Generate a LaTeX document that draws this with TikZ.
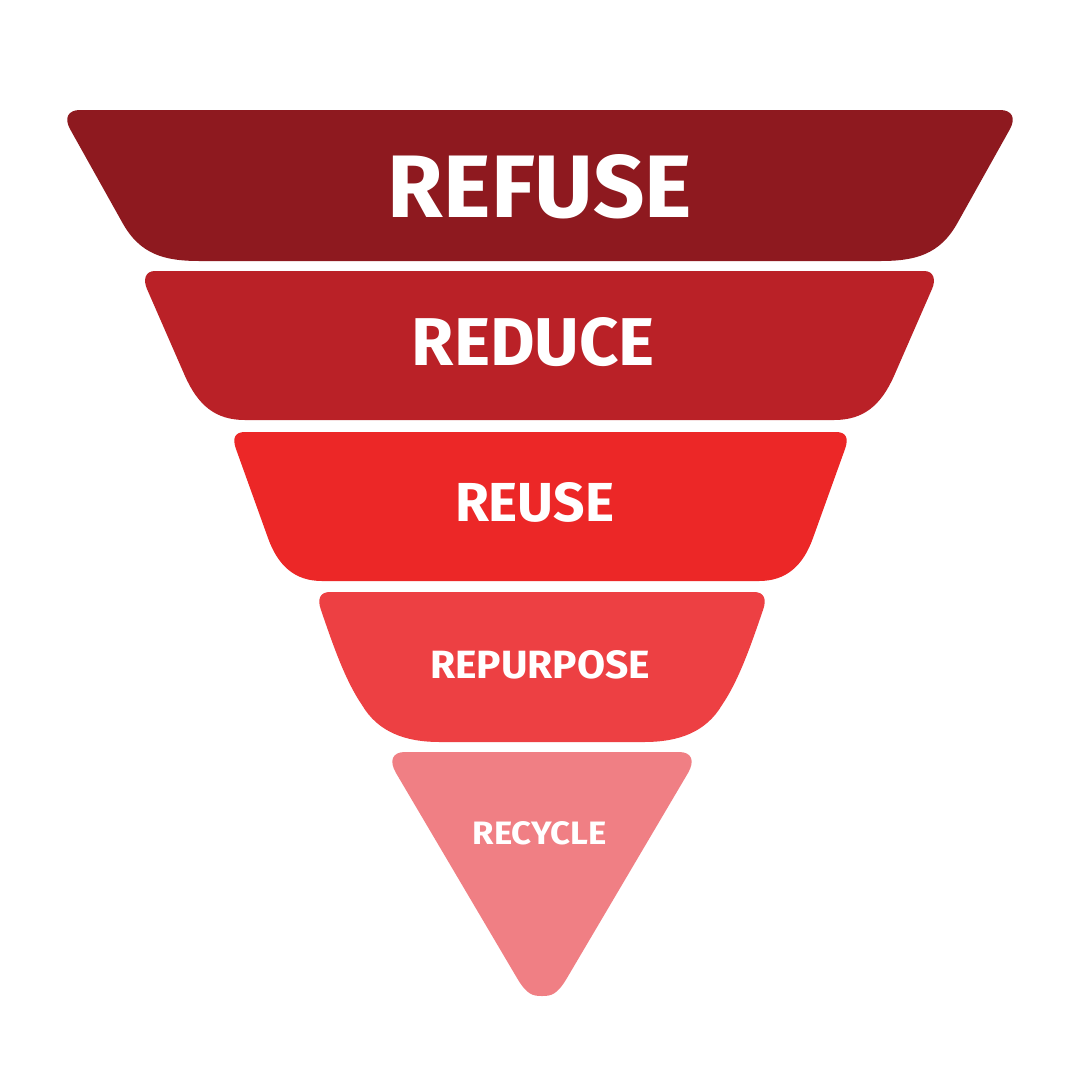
\documentclass[tikz,border=0pt]{standalone}
\usepackage{fontspec}
\setmainfont{Fira Sans}
\usepackage{graphicx}
\definecolor{cA}{HTML}{8E191F}
\definecolor{cB}{HTML}{BA2127}
\definecolor{cC}{HTML}{EC2727}
\definecolor{cD}{HTML}{ED4043}
\definecolor{cE}{HTML}{F07F84}
\tikzset{
  tierlabel/.style={inner sep=0pt, text=white, font=\bfseries}
}
\begin{document}
\begin{tikzpicture}[x=1pt,y=-1pt]
\useasboundingbox[fill=white] (0,0) rectangle (1080,1080);
% REFUSE
\fill[cA] (80,110) -- (1000,110) .. controls (1012,110) and (1016,118) .. (1010,129)
  -- (958,222) .. controls (940,255) and (915,261) .. (880,261)
  -- (200,261) .. controls (165,261) and (140,255) .. (122,222)
  -- (70,129) .. controls (64,118) and (68,110) .. (80,110) -- cycle;
% REDUCE
\fill[cB] (155,271) -- (924,271) .. controls (934,271) and (936,280) .. (932,289)
  -- (894,376) .. controls (881,405) and (864,420) .. (834,420)
  -- (245,420) .. controls (215,420) and (198,405) .. (185,376)
  -- (147,289) .. controls (143,280) and (145,271) .. (155,271) -- cycle;
% REUSE
\fill[cC] (245,432) -- (836,432) .. controls (846,432) and (849,438) .. (845,449)
  -- (813,538) .. controls (803,566) and (786,581) .. (759,581)
  -- (322,581) .. controls (295,581) and (278,566) .. (268,538)
  -- (236,449) .. controls (232,438) and (235,432) .. (245,432) -- cycle;
% REPURPOSE
\fill[cD] (330,592) -- (754,592) .. controls (764,592) and (767,599) .. (763,610)
  .. controls (751,645) and (739,680) .. (722,705)
  .. controls (706,732) and (679,742) .. (644,742)
  -- (440,742) .. controls (405,742) and (378,732) .. (362,705)
  .. controls (345,680) and (333,645) .. (321,610)
  .. controls (317,599) and (320,592) .. (330,592) -- cycle;
% RECYCLE
\fill[cE] (405,752) -- (679,752) .. controls (692,752) and (695,761) .. (688,773)
  -- (567,978) .. controls (557,995) and (551,996) .. (542,996)
  .. controls (533,996) and (527,995) .. (517,978)
  -- (396,773) .. controls (389,761) and (392,752) .. (405,752) -- cycle;
% labels
\node[tierlabel] (refuse) at (540,186.5) {\resizebox{304pt}{63pt}{REFUSE}};
\node[tierlabel] (reduce) at (533.5,342) {\resizebox{243pt}{48pt}{REDUCE}};
\node[tierlabel] (reuse) at (534.5,502.5) {\resizebox{159pt}{39pt}{REUSE}};
\node[tierlabel] (repurpose) at (540,665) {\resizebox{220pt}{28pt}{REPURPOSE}};
\node[tierlabel] (recycle) at (539.7,833.5) {\resizebox{134pt}{23pt}{RECYCLE}};
\end{tikzpicture}
\end{document}
